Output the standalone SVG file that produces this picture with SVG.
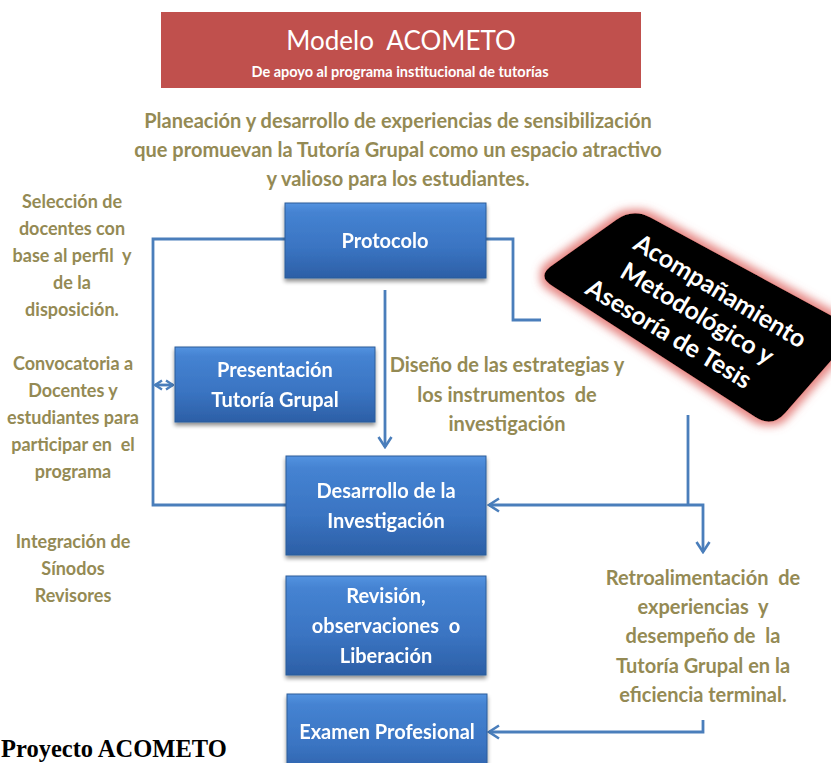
<svg xmlns="http://www.w3.org/2000/svg" width="831" height="763" viewBox="0 0 831 763">
<defs>
<style>
.olive{font-family:Lato,"Liberation Sans",sans-serif;font-weight:bold;fill:#948A54;text-anchor:middle;white-space:pre}
.bt{font-family:Lato,"Liberation Sans",sans-serif;font-weight:bold;font-size:20px;fill:#FFFFFF;text-anchor:middle;white-space:pre}
.box{fill:url(#bg);stroke:#2C5C9A;stroke-width:1}
.conn{fill:none;stroke:#4A7EBB;stroke-width:2.8}
</style>
<linearGradient id="bg" x1="0" y1="0" x2="0" y2="1">
<stop offset="0" stop-color="#5493E0"/>
<stop offset="0.12" stop-color="#4583D2"/>
<stop offset="0.6" stop-color="#3A74C2"/>
<stop offset="1" stop-color="#2C5FA6"/>
</linearGradient>
<filter id="sh" x="-10%" y="-10%" width="120%" height="130%">
<feGaussianBlur in="SourceAlpha" stdDeviation="2"/>
<feOffset dx="0" dy="3" result="o"/>
<feComponentTransfer><feFuncA type="linear" slope="0.45"/></feComponentTransfer>
<feMerge><feMergeNode/><feMergeNode in="SourceGraphic"/></feMerge>
</filter>
<filter id="glow" x="-20%" y="-30%" width="140%" height="160%">
<feMorphology in="SourceAlpha" operator="dilate" radius="4" result="d"/>
<feGaussianBlur in="d" stdDeviation="4.5" result="b"/>
<feFlood flood-color="#E06A66" flood-opacity="0.8"/>
<feComposite in2="b" operator="in"/>
<feMerge><feMergeNode/><feMergeNode in="SourceGraphic"/></feMerge>
</filter>
<marker id="ah" viewBox="0 0 14 16" refX="12" refY="8" markerWidth="14" markerHeight="16" markerUnits="userSpaceOnUse" orient="auto-start-reverse">
<path d="M2,1.5 L12,8 L2,14.5" fill="none" stroke="#4A7EBB" stroke-width="2.6"/>
</marker>
<marker id="ahs" viewBox="0 0 10 12" refX="9" refY="6" markerWidth="10" markerHeight="12" markerUnits="userSpaceOnUse" orient="auto-start-reverse">
<path d="M2,1.5 L9,6 L2,10.5" fill="none" stroke="#4A7EBB" stroke-width="2.4"/>
</marker>
</defs>
<rect width="831" height="763" fill="#FFFFFF"/>

<g id="title">
<rect x="161" y="12" width="480" height="76" fill="#C0504D"/>
<text x="401" y="50" font-family="Lato,'Liberation Sans',sans-serif" font-size="26" fill="#FFFFFF" text-anchor="middle" style="white-space:pre">Modelo  ACOMETO</text>
<text x="400" y="77" font-family="Lato,'Liberation Sans',sans-serif" font-size="14.5" font-weight="bold" fill="#FFFFFF" text-anchor="middle">De apoyo al programa institucional de tutorías</text>
</g>

<g id="intro">
<text class="olive" font-size="20" x="398" y="128">Planeación y desarrollo de experiencias de sensibilización</text>
<text class="olive" font-size="20" x="398" y="157">que promuevan la Tutoría Grupal como un espacio atractivo</text>
<text class="olive" font-size="20" x="398" y="186">y valioso para los estudiantes.</text>
</g>

<g id="left-notes">
<text class="olive" font-size="18" x="72" y="208">Selección de</text>
<text class="olive" font-size="18" x="72" y="235">docentes con</text>
<text class="olive" font-size="18" x="72" y="262">base al perfil  y</text>
<text class="olive" font-size="18" x="72" y="289">de la</text>
<text class="olive" font-size="18" x="72" y="316">disposición.</text>
<text class="olive" font-size="18" x="73" y="370">Convocatoria a</text>
<text class="olive" font-size="18" x="73" y="397">Docentes y</text>
<text class="olive" font-size="18" x="73" y="424">estudiantes para</text>
<text class="olive" font-size="18" x="73" y="451">participar en  el</text>
<text class="olive" font-size="18" x="73" y="478">programa</text>
<text class="olive" font-size="18" x="73" y="548">Integración de</text>
<text class="olive" font-size="18" x="73" y="575">Sínodos</text>
<text class="olive" font-size="18" x="73" y="602">Revisores</text>
</g>

<g id="diseno">
<text class="olive" font-size="20" x="507" y="372">Diseño de las estrategias y</text>
<text class="olive" font-size="20" x="507" y="402">los instrumentos  de</text>
<text class="olive" font-size="20" x="507" y="431">investigación</text>
</g>

<g id="retro">
<text class="olive" font-size="20" x="703" y="585">Retroalimentación  de</text>
<text class="olive" font-size="20" x="703" y="614">experiencias  y</text>
<text class="olive" font-size="20" x="703" y="643">desempeño de  la</text>
<text class="olive" font-size="20" x="703" y="673">Tutoría Grupal en la</text>
<text class="olive" font-size="20" x="703" y="702">eficiencia terminal.</text>
</g>

<g id="connectors">
<path class="conn" d="M285,239 H153 V505 H286"/>
<path class="conn" d="M155,385 H173" marker-start="url(#ahs)" marker-end="url(#ahs)"/>
<path class="conn" d="M385,290 V447" marker-end="url(#ah)"/>
<path class="conn" d="M486,239 H513 V320 H541"/>
<path class="conn" d="M688,415 V505"/>
<path class="conn" d="M489,505 H703 V552" marker-start="url(#ah)" marker-end="url(#ah)"/>
<path class="conn" d="M703,720 V732 H489" marker-end="url(#ah)"/>
</g>

<g id="protocolo" filter="url(#sh)">
<rect class="box" x="285" y="203" width="201" height="75"/>
<text class="bt" x="385" y="248">Protocolo</text>
</g>

<g id="presentacion" filter="url(#sh)">
<rect class="box" x="175" y="347" width="200" height="75"/>
<text class="bt" x="275" y="377">Presentación</text>
<text class="bt" x="275" y="407">Tutoría Grupal</text>
</g>

<g id="desarrollo" filter="url(#sh)">
<rect class="box" x="286" y="456" width="200" height="99"/>
<text class="bt" x="386" y="498">Desarrollo de la</text>
<text class="bt" x="386" y="528">Investigación</text>
</g>

<g id="revision" filter="url(#sh)">
<rect class="box" x="286" y="576" width="200" height="99"/>
<text class="bt" x="386" y="603">Revisión,</text>
<text class="bt" x="386" y="633">observaciones  o</text>
<text class="bt" x="386" y="663">Liberación</text>
</g>

<g id="examen" filter="url(#sh)">
<rect class="box" x="287" y="694" width="200" height="85"/>
<text class="bt" x="387" y="739">Examen Profesional</text>
</g>

<g id="acompanamiento">
<path d="M553.3,264.4 L616.7,219.6 Q633,208 650.6,217.5 L840.4,320.5 Q858,330 844.8,345 L785.2,413 Q772,428 755.2,417.1 L553.8,286.9 Q535,276 553.3,264.4 Z" fill="#000000" filter="url(#glow)"/>
<g transform="translate(690,318) rotate(31)" font-family="Lato,'Liberation Sans',sans-serif" font-weight="bold" font-size="25" fill="#FFFFFF" text-anchor="middle">
<text x="12" y="-30">Acompañamiento</text>
<text x="4" y="1">Metodológico y</text>
<text x="-10" y="33">Asesoría de Tesis</text>
</g>
</g>

<g id="caption">
<text x="1" y="757" font-family="'Liberation Serif',serif" font-weight="bold" font-size="24.5" fill="#000000">Proyecto ACOMETO</text>
</g>
</svg>
